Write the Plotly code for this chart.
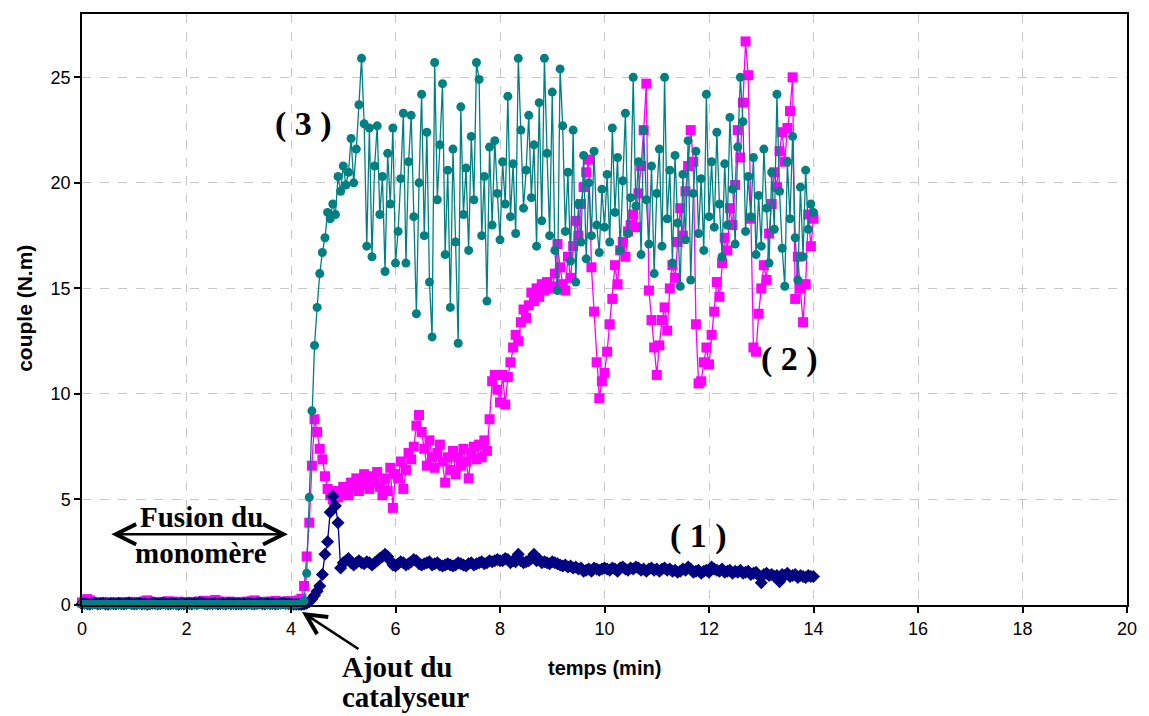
import plotly.graph_objects as go

# ---------------- data (torque in N.m, sampled every 0.05 min) ----------------
T_STEP = 0.05

# (1) navy diamonds
couple_1 = (
    [0.05, 0.08, 0.06, 0.04, 0.07, 0.09, 0.05, 0.06, 0.08, 0.05, 0.04, 0.07, 0.06, 0.05, 0.08, 0.06, 0.05, 0.07, 0.09, 0.06, 0.05]
    + [0.06, 0.08, 0.05, 0.07, 0.04, 0.06, 0.08, 0.07, 0.05, 0.06, 0.09, 0.07, 0.05, 0.06, 0.08, 0.06, 0.04, 0.07, 0.05, 0.06]
    + [0.07, 0.05, 0.08, 0.06, 0.12, 0.09, 0.06, 0.05, 0.07, 0.06, 0.08, 0.05, 0.06, 0.07, 0.05, 0.08, 0.06, 0.07, 0.05, 0.06]
    + [0.05, 0.07, 0.06, 0.08, 0.06, 0.05, 0.07, 0.09, 0.06, 0.05, 0.08, 0.06, 0.07, 0.05, 0.06, 0.08, 0.10, 0.07, 0.06, 0.05]
    + [0.04, 0.03, 0.03, 0.02, 0.04, 0.08, 0.15, 0.28, 0.45, 0.65, 0.9, 1.45, 2.4, 3.0, 4.4, 5.15, 4.7, 3.9, 1.75, 2.0]
    + [2.1, 2.2, 2.0, 1.9, 2.0, 2.1, 2.0, 1.95, 2.05, 2.0, 1.9, 2.0, 2.1, 2.2, 2.3, 2.4, 2.3, 2.1, 1.9, 1.85]
    + [1.95, 2.05, 2.0, 1.9, 1.95, 2.05, 2.15, 2.1, 1.95, 1.9, 1.95, 2.0, 2.05, 1.9, 1.95, 2.0, 1.9, 1.85, 1.9, 1.95]
    + [1.9, 1.85, 1.9, 2.0, 1.95, 1.9, 1.85, 1.95, 2.0, 1.9, 1.95, 2.0, 2.05, 1.95, 2.0, 2.1, 2.05, 2.1, 2.15, 2.1]
    + [2.1, 2.2, 2.15, 2.0, 2.1, 2.05, 2.4, 2.1, 2.0, 2.05, 2.1, 2.2, 2.4, 2.1, 2.15, 2.0, 2.05, 2.0, 1.95, 2.05]
    + [2.0, 1.95, 1.9, 1.85, 1.9, 1.8, 1.85, 1.75, 1.8, 1.7, 1.75, 1.6, 1.65, 1.7, 1.6, 1.75, 1.7, 1.65, 1.7, 1.75]
    + [1.7, 1.65, 1.75, 1.7, 1.6, 1.75, 1.8, 1.7, 1.65, 1.75, 1.7, 1.8, 1.75, 1.65, 1.7, 1.6, 1.7, 1.75, 1.65, 1.7]
    + [1.6, 1.7, 1.75, 1.65, 1.7, 1.6, 1.65, 1.55, 1.6, 1.7, 1.65, 1.8, 1.7, 1.55, 1.6, 1.65, 1.5, 1.6, 1.65, 1.55]
    + [1.8, 1.7, 1.65, 1.6, 1.7, 1.55, 1.6, 1.65, 1.5, 1.6, 1.55, 1.65, 1.5, 1.55, 1.6, 1.45, 1.5, 1.55, 1.4, 1.05]
    + [1.45, 1.5, 1.4, 1.45, 1.35, 1.4, 1.1, 1.45, 1.4, 1.5, 1.35, 1.4, 1.45, 1.3, 1.4, 1.35, 1.3, 1.4, 1.35, 1.35]
)

# (2) magenta squares
couple_2 = (
    [0.12, 0.18, 0.28, 0.22, 0.15, 0.10, 0.12, 0.09, 0.14, 0.11, 0.08, 0.12, 0.10, 0.13, 0.09, 0.11, 0.14, 0.10, 0.12, 0.15, 0.11]
    + [0.13, 0.10, 0.14, 0.18, 0.22, 0.16, 0.12, 0.10, 0.13, 0.11, 0.15, 0.12, 0.18, 0.14, 0.11, 0.13, 0.16, 0.12, 0.10, 0.14]
    + [0.12, 0.15, 0.11, 0.14, 0.17, 0.13, 0.20, 0.16, 0.12, 0.15, 0.24, 0.18, 0.13, 0.11, 0.14, 0.16, 0.12, 0.15, 0.13, 0.11]
    + [0.14, 0.12, 0.16, 0.13, 0.18, 0.22, 0.15, 0.12, 0.14, 0.11, 0.16, 0.13, 0.15, 0.19, 0.14, 0.12, 0.16, 0.13, 0.18, 0.15]
    + [0.14, 0.18, 0.22, 0.3, 0.9, 2.3, 3.9, 6.6, 8.8, 8.2, 7.4, 6.9, 6.1, 5.5, 5.2, 5.0, 5.4, 5.1, 5.3, 5.6]
    + [5.5, 5.2, 5.8, 5.6, 6.0, 5.4, 5.7, 6.2, 5.9, 5.5, 6.1, 5.8, 6.3, 5.6, 5.2, 6.0, 5.4, 6.5, 4.6, 6.2]
    + [6.0, 6.8, 5.5, 6.4, 7.2, 6.9, 7.5, 8.5, 9.0, 8.2, 7.4, 6.6, 7.8, 7.0, 6.5, 7.2, 7.6, 6.8, 5.8, 7.0]
    + [6.4, 7.3, 6.2, 7.0, 6.6, 7.4, 6.8, 6.0, 7.2, 7.5, 6.9, 7.6, 7.0, 7.8, 7.3, 8.8, 10.6, 10.9, 10.2, 9.6]
    + [10.9, 9.5, 10.8, 11.5, 12.2, 12.8, 12.5, 13.4, 14.0, 13.6, 14.2, 14.8, 14.4, 15.0, 14.6, 15.2, 14.9, 15.3, 15.0, 15.1]
    + [15.7, 17.1, 16.0, 15.2, 14.9, 16.5, 15.5, 17.0, 18.2, 17.5, 19.0, 19.8, 20.5, 21.1, 16.0, 13.9, 11.5, 9.8, 10.6, 11.0]
    + [12.0, 13.3, 14.5, 16.1, 15.2, 16.8, 17.2, 16.5, 17.7, 18.0, 18.5, 17.9, 19.5, 20.8, 22.5, 24.7, 14.9, 13.5, 12.2, 10.9]
    + [12.3, 13.5, 14.1, 13.0, 15.0, 16.1, 15.5, 17.2, 18.8, 17.5, 19.6, 20.8, 22.5, 21.0, 13.3, 10.5, 10.6, 11.5, 12.2, 11.4]
    + [12.8, 13.9, 15.3, 14.6, 16.2, 17.4, 16.8, 18.8, 18.0, 19.9, 22.5, 21.2, 23.8, 26.7, 25.1, 18.3, 12.2, 12.0, 13.8, 15.0]
    + [16.1, 15.4, 17.6, 19.0, 20.5, 19.8, 21.5, 22.4, 21.0, 22.6, 23.4, 25.0, 14.5, 16.5, 15.0, 13.4, 15.2, 18.5, 17.0, 18.3]
)

# (3) teal circles
couple_3 = (
    [0.03, 0.02, 0.04, 0.03, 0.02, 0.03, 0.04, 0.02, 0.03, 0.05, 0.03, 0.02, 0.04, 0.03, 0.02, 0.03, 0.04, 0.03, 0.02, 0.03, 0.04]
    + [0.03, 0.02, 0.03, 0.04, 0.02, 0.03, 0.05, 0.03, 0.02, 0.04, 0.03, 0.02, 0.03, 0.04, 0.03, 0.02, 0.03, 0.05, 0.03, 0.02]
    + [0.04, 0.03, 0.02, 0.03, 0.04, 0.03, 0.02, 0.03, 0.04, 0.02, 0.03, 0.05, 0.03, 0.02, 0.03, 0.04, 0.03, 0.02, 0.03, 0.04]
    + [0.03, 0.02, 0.04, 0.03, 0.02, 0.03, 0.04, 0.03, 0.05, 0.03, 0.02, 0.03, 0.04, 0.03, 0.02, 0.03, 0.04, 0.02, 0.03, 0.03]
    + [0.03, 0.04, 0.05, 0.08, 0.2, 1.5, 5.1, 9.2, 12.3, 14.1, 15.7, 16.7, 17.4, 18.6, 18.3, 19.0, 18.5, 20.3, 19.6, 20.8]
    + [19.9, 20.5, 22.1, 20.0, 21.6, 23.7, 25.9, 22.8, 17.0, 22.6, 16.5, 20.8, 22.7, 18.5, 20.3, 15.8, 21.4, 19.0, 22.6, 16.2]
    + [17.7, 20.2, 23.3, 16.2, 21.0, 23.2, 18.4, 13.8, 20.0, 24.2, 17.5, 22.4, 15.3, 12.7, 25.7, 19.2, 21.8, 24.7, 16.6, 20.6]
    + [14.1, 21.6, 17.2, 12.4, 23.6, 18.5, 20.7, 16.8, 22.2, 19.2, 25.7, 24.9, 17.5, 20.3, 14.4, 21.7, 18.0, 22.0, 19.5, 17.3]
    + [21.0, 19.0, 24.1, 18.4, 20.9, 17.6, 25.9, 22.5, 18.8, 20.6, 23.2, 19.3, 21.8, 17.0, 23.8, 18.2, 25.9, 21.4, 17.5, 24.3]
    + [16.8, 14.9, 25.4, 22.7, 17.7, 20.5, 16.3, 22.5, 15.3, 19.0, 17.2, 21.3, 16.4, 20.0, 17.5, 21.5, 18.0, 16.7, 19.7, 17.9]
    + [20.4, 17.2, 22.6, 18.6, 21.2, 16.8, 20.1, 23.3, 17.6, 19.3, 25.0, 18.9, 21.0, 16.6, 22.5, 19.2, 17.1, 20.8, 15.7, 19.5]
    + [21.6, 17.0, 25.0, 18.3, 20.6, 16.2, 21.3, 18.1, 15.1, 20.4, 17.3, 22.0, 15.4, 19.5, 21.5, 17.6, 20.2, 16.8, 24.2, 18.4]
    + [21.0, 17.9, 22.4, 19.0, 16.5, 20.9, 18.0, 23.1, 19.7, 17.1, 21.7, 25.0, 22.9, 17.7, 20.3, 18.4, 21.2, 16.6, 19.4, 17.0]
    + [21.6, 18.8, 16.2, 20.5, 17.8, 24.2, 19.6, 16.9, 15.1, 21.0, 18.3, 22.2, 17.4, 15.4, 19.8, 16.5, 20.6, 17.8, 19.0, 18.6]
)

x_ticks = [0, 2, 4, 6, 8, 10, 12, 14, 16, 18, 20]
y_ticks = [0, 5, 10, 15, 20, 25]


def times(values):
    return [round(i * T_STEP, 2) for i in range(len(values))]


fig = go.Figure()

fig.add_trace(go.Scatter(
    x=times(couple_2), y=couple_2, mode="lines+markers", name="(2)",
    line=dict(color="#FF00FF", width=1.3),
    marker=dict(symbol="square", size=10, color="#FF00FF"),
    cliponaxis=False,
))
fig.add_trace(go.Scatter(
    x=times(couple_1), y=couple_1, mode="lines+markers", name="(1)",
    line=dict(color="#000080", width=1.3),
    marker=dict(symbol="diamond", size=10, color="#000080"),
    cliponaxis=False,
))
fig.add_trace(go.Scatter(
    x=times(couple_3), y=couple_3, mode="lines+markers", name="(3)",
    line=dict(color="#008080", width=1.3),
    marker=dict(symbol="circle", size=9, color="#008080"),
    cliponaxis=False,
))

serif = "Liberation Serif, Times New Roman, serif"
sans = "Liberation Sans, Arial, sans-serif"
num_font = dict(family=serif, size=34, color="black")
lab_font = dict(family=serif, size=29, color="black")

PY0 = 605.0   # pixel row of the x axis
PH = 593.0    # plot height in pixels


def py(pix):
    """paper y from a pixel row of the 1149x716 page"""
    return (PY0 - pix) / PH


annotations = [
    dict(x=4.24, y=22.8, xref="x", yref="y", text="<b>( 3 )</b>", showarrow=False, font=num_font),
    dict(x=13.54, y=11.65, xref="x", yref="y", text="<b>( 2 )</b>", showarrow=False, font=num_font),
    dict(x=11.80, y=3.25, xref="x", yref="y", text="<b>( 1 )</b>", showarrow=False, font=num_font),
    dict(x=2.28, y=4.17, xref="x", yref="y", text="<b>Fusion du</b>", showarrow=False, font=lab_font),
    dict(x=2.28, y=2.48, xref="x", yref="y", text="<b>monomère</b>", showarrow=False, font=lab_font),
    dict(x=3.94, y=3.35, xref="x", yref="y", text="", showarrow=True, ax=-178, ay=0,
         arrowhead=5, startarrowhead=5, arrowside="end+start", arrowsize=1.6, startarrowsize=1.6,
         arrowwidth=2.5, arrowcolor="black"),
    dict(x=4.93, y=py(667), xref="x", yref="paper", text="<b>Ajout du</b>", showarrow=False,
         font=lab_font, xanchor="left", yanchor="middle"),
    dict(x=4.93, y=py(697), xref="x", yref="paper", text="<b>catalyseur</b>", showarrow=False,
         font=lab_font, xanchor="left", yanchor="middle"),
    dict(x=4.21, y=py(612), xref="x", yref="paper", text="", showarrow=True, ax=58, ay=38,
         arrowhead=5, arrowsize=1.6, arrowwidth=2.5, arrowcolor="black"),
    dict(x=0.5, y=py(668), xref="paper", yref="paper", text="<b>temps (min)</b>", showarrow=False,
         font=dict(family=sans, size=20, color="black"), yanchor="middle"),
    dict(x=-0.055, y=0.502, xref="paper", yref="paper", text="<b>couple (N.m)</b>", showarrow=False,
         textangle=-90, font=dict(family=sans, size=21, color="black"), xanchor="center", yanchor="middle"),
]

fig.update_layout(
    width=1149, height=716,
    margin=dict(l=82, r=20, t=12, b=111),
    paper_bgcolor="white", plot_bgcolor="white",
    showlegend=False,
    annotations=annotations,
    font=dict(family=sans, size=18, color="black"),
)
fig.update_xaxes(
    range=[0, 20], tickvals=x_ticks, ticktext=[str(v) for v in x_ticks],
    showline=True, linecolor="black", linewidth=2, mirror=True,
    ticks="outside", ticklen=6, tickcolor="black", tickwidth=1.5,
    showgrid=True, gridcolor="#c8c8c8", griddash="dash", gridwidth=1.3,
    zeroline=False, tickfont=dict(family=sans, size=18, color="black"),
)
fig.update_yaxes(
    range=[0, 28], tickvals=y_ticks, ticktext=[str(v) for v in y_ticks],
    showline=True, linecolor="black", linewidth=1.5, mirror=True,
    ticks="outside", ticklen=6, tickcolor="black", tickwidth=1.5,
    showgrid=True, gridcolor="#c8c8c8", griddash="dash", gridwidth=1.3,
    zeroline=False, tickfont=dict(family=sans, size=18, color="black"),
)

fig.write_html("out.html", config={"displayModeBar": False},
               post_script="document.body.style.margin='0';")
